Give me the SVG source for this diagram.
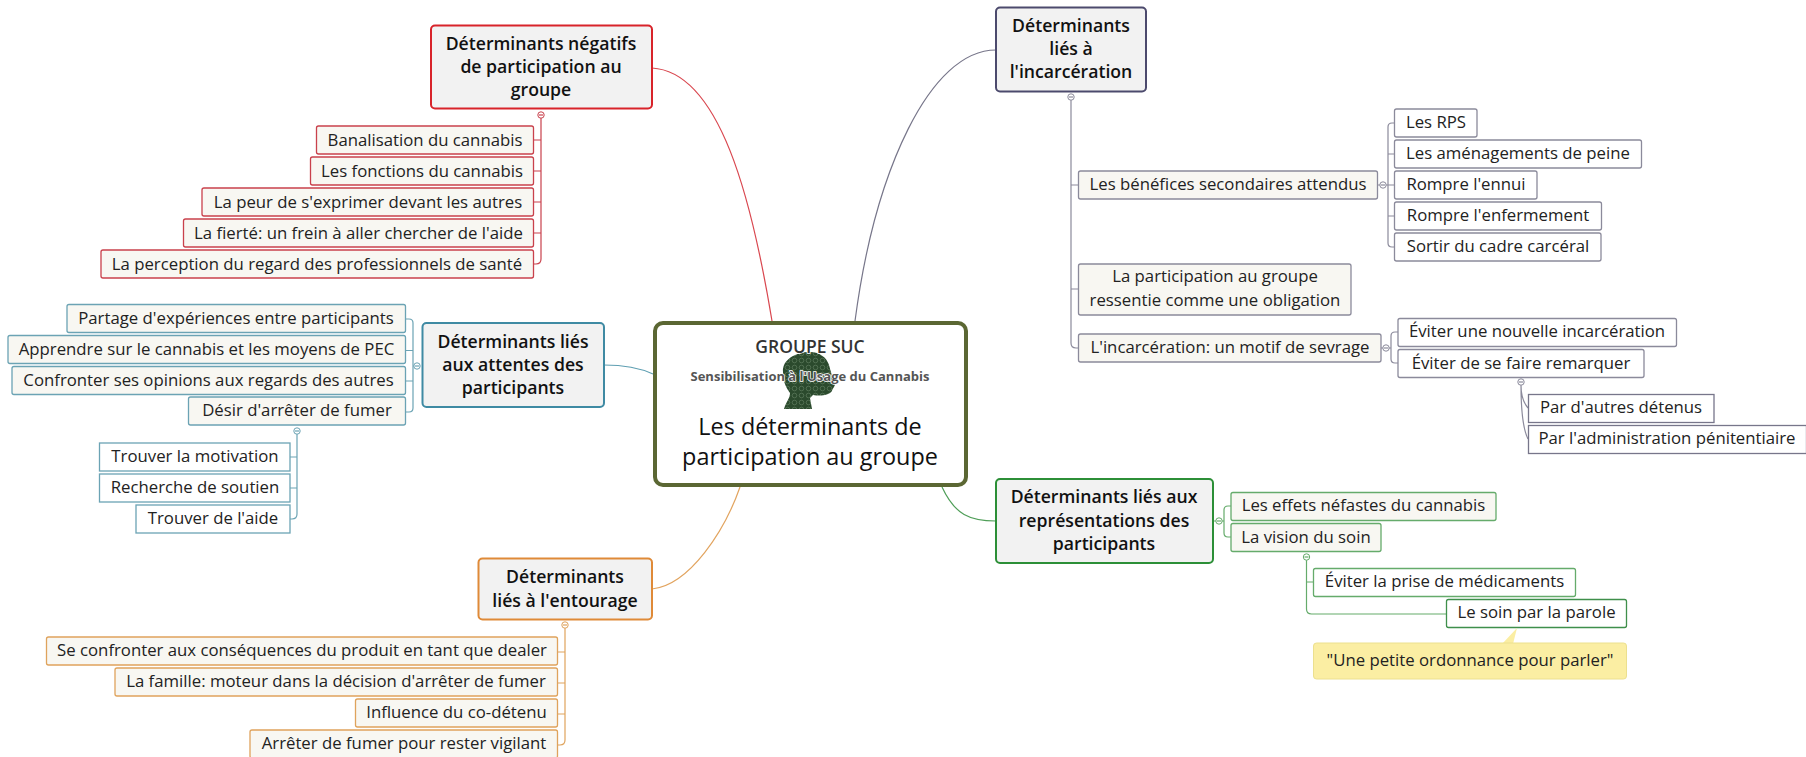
<svg xmlns="http://www.w3.org/2000/svg" width="1806" height="757" viewBox="0 0 1806 757">
<style>
text{font-family:"Open Sans","DejaVu Sans",sans-serif;text-anchor:middle;fill:#222}
.t{font-size:16.750px;transform:translateY(-0.8px)}
.m{font-size:17.650px;font-weight:600;fill:#111}
.b{stroke-width:1.3;fill:#f8f7f2}
.w{stroke-width:1.3;fill:#fff}
.main{stroke-width:2;fill:#f2f2f2}
.l{fill:none;stroke-width:1.2}
.c{fill:#fff;stroke-width:1}
.red{stroke:#c9414c}.blue{stroke:#6ba3b4}.org{stroke:#dfa35c}.gry{stroke:#8b8a9b}.grn{stroke:#65ab6b}
</style>
<defs>
<pattern id="tex" width="7" height="7" patternUnits="userSpaceOnUse">
<rect width="7" height="7" fill="#2b4a2d"/><circle cx="3.500" cy="3.500" r="2.300" fill="none" stroke="#587658" stroke-width="0.800"/>
</pattern>
</defs>
<g id="connectors">
<path class="l" stroke="#d9474f" d="M652 68C720 72 752 200 772 321"/>
<path class="l" stroke="#77768a" d="M996 50C930 50 875 170 855 321"/>
<path class="l" stroke="#5f9fb2" d="M604 365C625 365 640 368 653 374"/>
<path class="l" stroke="#e2a45f" d="M652 589C690 585 725 530 740 487"/>
<path class="l" stroke="#4f9e58" d="M996 521C970 521 955 515 942 487"/>
<path class="l red" d="M541 115V259q0 5-5 5h-3M533 140h8M533 171h8M533 202h8M533 233h8"/>
<path class="l blue" d="M406 319h3q4 0 4 4V408q0 4-4 4h-3M406 350.500h7M406 381h7M413 366h2"/>
<path class="l blue" d="M297 431V514q0 5-5 5h-2M290 457h7M290 488h7"/>
<path class="l org" d="M565 625V740q0 5-5 5h-2M558 652h7M558 683h7M558 714h7"/>
<path class="l gry" d="M1071 100V343q0 5 5 5h2M1071 185h7M1071 289h7"/>
<path class="l gry" d="M1394 123h-2q-4 0-4 4V243q0 4 4 4h2M1388 154h6M1377 185h17M1388 216h6"/>
<path class="l gry" d="M1398 332h-3q-4 0-4 4V359q0 4 4 4h3M1381 348h10"/>
<path class="l gry" d="M1521 385Q1521 400 1528 408M1521 385Q1521 425 1528 439"/>
<path class="l grn" d="M1231 506h-3q-4 0-4 4V533q0 4 4 4h3M1213 521h11"/>
<path class="l grn" d="M1306.500 560V609q0 5 5 5H1446M1306.500 582h7"/>
<circle class="c red" cx="541" cy="115" r="3.200"/><path class="l red" d="M539 115h4"/>
<circle class="c blue" cx="417" cy="366" r="3.200"/><path class="l blue" d="M415 366h4"/>
<circle class="c blue" cx="297" cy="431" r="3.200"/><path class="l blue" d="M295 431h4"/>
<circle class="c org" cx="565" cy="625" r="3.200"/><path class="l org" d="M563 625h4"/>
<circle class="c gry" cx="1071" cy="97" r="3.200"/><path class="l gry" d="M1069 97h4"/>
<circle class="c gry" cx="1383" cy="185" r="3.200"/><path class="l gry" d="M1381 185h4"/>
<circle class="c gry" cx="1386" cy="348" r="3.200"/><path class="l gry" d="M1384 348h4"/>
<circle class="c gry" cx="1521" cy="382" r="3.200"/><path class="l gry" d="M1519 382h4"/>
<circle class="c grn" cx="1219" cy="521" r="3.200"/><path class="l grn" d="M1217 521h4"/>
<circle class="c grn" cx="1306.500" cy="557" r="3.200"/><path class="l grn" d="M1304.500 557h4"/>
</g>
<g id="center">
<rect x="655" y="323" width="311" height="162" rx="8" fill="#fff" stroke="#5b6733" stroke-width="4"/>
<path d="M784 409C786 402 790 398 790 393C785 386 783 380 783 372C782 360 795 352 810 352C820 352 827 358 829 365C831 372 832 377 835 382C836 386 832 389 832 391C828 396 820 396 813 395L810 398L812 409Z" fill="url(#tex)"/>
<text x="810" y="353" style="font-size:17.500px;font-weight:600;fill:#333;paint-order:stroke;stroke:#fff;stroke-width:1.500">GROUPE SUC</text>
<text x="810" y="381" style="font-size:13px;font-weight:700;fill:#555;paint-order:stroke;stroke:#fff;stroke-width:1.500">Sensibilisation à l'Usage du Cannabis</text>
<text x="810" y="435" style="font-size:23.400px;font-weight:500;fill:#111">Les déterminants de</text>
<text x="810" y="465" style="font-size:23.400px;font-weight:500;fill:#111">participation au groupe</text>
</g>
<g id="neg">
<rect class="main" x="431" y="25.500" width="221" height="83" rx="4" stroke="#d8232a"/>
<text class="m" x="541" y="50">Déterminants négatifs</text><text class="m" x="541" y="73">de participation au</text><text class="m" x="541" y="96">groupe</text>
</g>
<g id="neg1"><rect class="b red" x="316.500" y="126" width="217" height="28" rx="2"/><text class="t" x="425" y="146.800">Banalisation du cannabis</text></g>
<g id="neg2"><rect class="b red" x="310.500" y="157" width="223" height="28" rx="2"/><text class="t" x="422" y="177.800">Les fonctions du cannabis</text></g>
<g id="neg3"><rect class="b red" x="202" y="188" width="331.500" height="28" rx="2"/><text class="t" x="368" y="208.800">La peur de s'exprimer devant les autres</text></g>
<g id="neg4"><rect class="b red" x="183.500" y="219" width="350" height="28" rx="2"/><text class="t" x="358.500" y="239.800">La fierté: un frein à aller chercher de l'aide</text></g>
<g id="neg5"><rect class="b red" x="101" y="250" width="432.500" height="28" rx="2"/><text class="t" x="317" y="270.500">La perception du regard des professionnels de santé</text></g>
<g id="att">
<rect class="main" x="422.500" y="323" width="181.500" height="84" rx="4" stroke="#3f8aa3"/>
<text class="m" x="513" y="348">Déterminants liés</text><text class="m" x="513" y="371">aux attentes des</text><text class="m" x="513" y="394">participants</text>
</g>
<g id="att1"><rect class="b blue" x="67" y="304.500" width="338.500" height="28" rx="2"/><text class="t" x="236" y="324.500">Partage d'expériences entre participants</text></g>
<g id="att2"><rect class="b blue" x="8" y="335.500" width="397.500" height="28" rx="2"/><text class="t" x="206.500" y="355.500">Apprendre sur le cannabis et les moyens de PEC</text></g>
<g id="att3"><rect class="b blue" x="12" y="366.500" width="393.500" height="28" rx="2"/><text class="t" x="208.500" y="386.500">Confronter ses opinions aux regards des autres</text></g>
<g id="att4"><rect class="b blue" x="188.500" y="397" width="217" height="28" rx="2"/><text class="t" x="297" y="417">Désir d'arrêter de fumer</text></g>
<g id="att5"><rect class="w blue" x="99.500" y="443" width="190.500" height="28"/><text class="t" x="195" y="463">Trouver la motivation</text></g>
<g id="att6"><rect class="w blue" x="99.500" y="474" width="190.500" height="28"/><text class="t" x="195" y="494">Recherche de soutien</text></g>
<g id="att7"><rect class="w blue" x="136" y="505" width="154" height="28"/><text class="t" x="213" y="525">Trouver de l'aide</text></g>
<g id="ent">
<rect class="main" x="478.500" y="558.500" width="173.500" height="61" rx="4" stroke="#df8a38"/>
<text class="m" x="565" y="583">Déterminants</text><text class="m" x="565" y="606.500">liés à l'entourage</text>
</g>
<g id="ent1"><rect class="b org" x="46.500" y="637" width="511" height="28" rx="2"/><text class="t" x="302" y="657">Se confronter aux conséquences du produit en tant que dealer</text></g>
<g id="ent2"><rect class="b org" x="115" y="668" width="442.500" height="28" rx="2"/><text class="t" x="336" y="688">La famille: moteur dans la décision d'arrêter de fumer</text></g>
<g id="ent3"><rect class="b org" x="355.500" y="699" width="202" height="28" rx="2"/><text class="t" x="456.500" y="719">Influence du co-détenu</text></g>
<g id="ent4"><rect class="b org" x="250" y="730" width="307.500" height="28" rx="2"/><text class="t" x="404" y="749.500">Arrêter de fumer pour rester vigilant</text></g>
<g id="inc">
<rect class="main" x="996" y="7.500" width="150" height="84" rx="4" stroke="#4c4a6d"/>
<text class="m" x="1071" y="32">Déterminants</text><text class="m" x="1071" y="55">liés à</text><text class="m" x="1071" y="78">l'incarcération</text>
</g>
<g id="inc1"><rect class="b gry" x="1078.500" y="171" width="299" height="28" rx="2"/><text class="t" x="1228" y="191">Les bénéfices secondaires attendus</text></g>
<g id="inc2"><rect class="w gry" x="1394.500" y="109" width="82.500" height="28" rx="2"/><text class="t" x="1436" y="129">Les RPS</text></g>
<g id="inc3"><rect class="w gry" x="1394.500" y="140" width="247" height="28" rx="2"/><text class="t" x="1518" y="160">Les aménagements de peine</text></g>
<g id="inc4"><rect class="w gry" x="1394.500" y="171" width="142.500" height="28" rx="2"/><text class="t" x="1466" y="191">Rompre l'ennui</text></g>
<g id="inc5"><rect class="w gry" x="1394.500" y="202" width="207" height="28" rx="2"/><text class="t" x="1498" y="222">Rompre l'enfermement</text></g>
<g id="inc6"><rect class="w gry" x="1394.500" y="233" width="206.500" height="28" rx="2"/><text class="t" x="1498" y="253">Sortir du cadre carcéral</text></g>
<g id="inc7"><rect class="b gry" x="1078.500" y="264" width="272.500" height="51" rx="2"/><text class="t" x="1215" y="283">La participation au groupe</text><text class="t" x="1215" y="306.500">ressentie comme une obligation</text></g>
<g id="inc8"><rect class="b gry" x="1078.500" y="334" width="302.500" height="28" rx="2"/><text class="t" x="1230" y="354">L'incarcération: un motif de sevrage</text></g>
<g id="inc9"><rect class="w gry" x="1398" y="318.500" width="278.500" height="28" rx="2"/><text class="t" x="1537" y="337.700">Éviter une nouvelle incarcération</text></g>
<g id="inc10"><rect class="w gry" x="1398" y="349.500" width="246" height="28" rx="2"/><text class="t" x="1521" y="369.500">Éviter de se faire remarquer</text></g>
<g id="inc11"><rect class="w" stroke="#77768a" x="1528.500" y="394.500" width="185.500" height="28"/><text class="t" x="1621" y="413.700">Par d'autres détenus</text></g>
<g id="inc12"><rect class="w" stroke="#77768a" x="1528.500" y="425.500" width="278" height="28"/><text class="t" x="1667" y="444.700">Par l'administration pénitentiaire</text></g>
<g id="rep">
<rect class="main" x="996" y="479" width="217" height="84" rx="4" stroke="#2c8f37"/>
<text class="m" x="1104" y="503">Déterminants liés aux</text><text class="m" x="1104" y="526.500">représentations des</text><text class="m" x="1104" y="549.500">participants</text>
</g>
<g id="rep1"><rect class="b grn" x="1231" y="492.500" width="265" height="28" rx="2"/><text class="t" x="1363.500" y="511.700">Les effets néfastes du cannabis</text></g>
<g id="rep2"><rect class="b grn" x="1231" y="523.500" width="150" height="28" rx="2"/><text class="t" x="1306" y="543.500">La vision du soin</text></g>
<g id="rep3"><rect class="w grn" x="1313.500" y="568.500" width="262" height="28" rx="2"/><text class="t" x="1444.500" y="587.700">Éviter la prise de médicaments</text></g>
<g id="rep4"><rect class="w" stroke="#3f8f4b" x="1446.500" y="599.500" width="180" height="28" rx="2"/><text class="t" x="1536.500" y="618.700">Le soin par la parole</text></g>
<g id="note">
<path d="M1517 628L1502 644H1513Z" fill="#fbeea3"/>
<rect x="1313.500" y="643" width="313" height="36" rx="3" fill="#fbeea3" stroke="#ece08f"/>
<text class="t" x="1470" y="666.500">"Une petite ordonnance pour parler"</text>
</g>
</svg>
